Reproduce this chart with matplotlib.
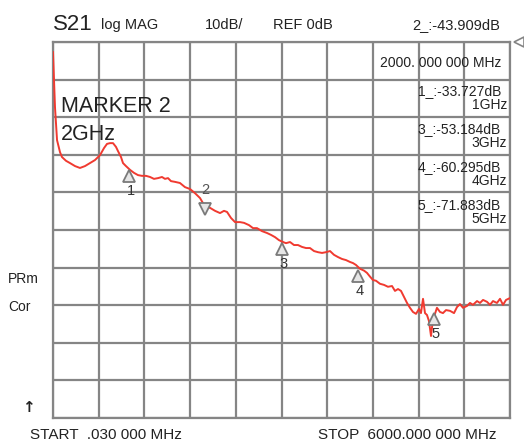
import matplotlib
matplotlib.use("Agg")
import matplotlib.pyplot as plt
import matplotlib.transforms as mtrans
import numpy as np

plt.rcParams['font.family'] = ['Liberation Sans', 'DejaVu Sans']

# ---- data ----
freq_mhz = [0.03, 13, 26, 53, 92, 118, 171, 223, 289, 354, 420, 486, 551, 617, 670, 709, 748,
            788, 827, 853, 893, 919, 958, 1011, 1063, 1116, 1168, 1221, 1274, 1326, 1379, 1431,
            1470, 1510, 1549, 1602, 1667, 1733, 1799, 1864, 1930, 2000, 2061, 2127, 2193, 2245,
            2285, 2337, 2390, 2455, 2508, 2573, 2626, 2678, 2744, 2810, 2862, 2915, 2967, 3020,
            3059, 3112, 3164, 3217, 3269, 3322, 3374, 3427, 3479, 3532, 3584, 3637, 3689, 3742,
            3794, 3847, 3899, 3939, 3978, 4030, 4083, 4122, 4162, 4201, 4241, 4293, 4346, 4398,
            4451, 4490, 4530, 4569, 4608, 4648, 4687, 4726, 4766, 4805, 4831, 4858, 4884, 4910,
            4936, 4963, 4989, 5015, 5041, 5081, 5120, 5160, 5212, 5265, 5304, 5343, 5383, 5435,
            5475, 5514, 5567, 5606, 5646, 5698, 5737, 5777, 5829, 5869, 5908, 5948, 6000]
s21_db = [-2.7, -10.1, -17.3, -26.1, -29.3, -30.6, -31.6, -32.2, -33.0, -33.5, -33.0, -32.2,
          -31.4, -30.1, -28.2, -27.1, -26.9, -26.9, -27.9, -29.0, -30.6, -32.2, -33.0, -34.0,
          -34.8, -35.4, -35.6, -35.6, -35.9, -36.4, -36.2, -35.9, -36.4, -36.2, -37.0, -37.2,
          -37.5, -38.6, -39.1, -40.2, -41.5, -43.9, -44.1, -44.9, -45.5, -44.9, -45.2, -46.8,
          -47.9, -47.9, -48.1, -48.7, -49.5, -49.5, -50.3, -50.8, -51.3, -51.9, -52.7, -53.2,
          -53.5, -53.2, -54.0, -54.0, -54.5, -54.8, -54.8, -55.6, -55.9, -56.1, -55.9, -55.6,
          -56.6, -57.2, -57.7, -58.0, -58.5, -58.8, -59.3, -60.3, -60.8, -61.4, -62.4, -63.3,
          -63.5, -64.3, -64.6, -65.1, -64.9, -66.2, -65.7, -66.2, -67.8, -69.4, -70.7, -71.8,
          -72.3, -71.0, -72.1, -68.3, -72.1, -72.6, -74.2, -78.2, -73.7, -72.3, -70.7, -71.8,
          -72.1, -71.3, -71.5, -72.1, -70.5, -69.7, -70.7, -70.2, -69.4, -69.9, -68.9, -69.4,
          -68.6, -69.1, -69.9, -68.9, -69.4, -68.3, -69.9, -68.6, -68.1]

marker_ids = ['1', '2', '3', '4', '5']
marker_freq = [1000, 2000, 3000, 4000, 5000]
marker_db = [-33.727, -43.909, -53.184, -60.295, -71.883]
marker_readout = ['1_:-33.727dB', '3_:-53.184dB', '4_:-60.295dB', '5_:-71.883dB']
marker_freq_lbl = ['1GHz', '3GHz', '4GHz', '5GHz']

W, H = 524, 444
fig = plt.figure(figsize=(W / 100, H / 100), dpi=100)
fig.patch.set_facecolor('white')

L, R, T, B = 53, 510, 42, 418
ax = fig.add_axes([L / W, 1 - B / H, (R - L) / W, (B - T) / H])
ax.set_xlim(0, 6000)
ax.set_ylim(-100, 0)
ax.set_xticks(np.linspace(0, 6000, 11))
ax.set_yticks(np.linspace(-100, 0, 11))
ax.tick_params(length=0, labelbottom=False, labelleft=False)
ax.grid(True, color='#858585', lw=1.6)
for s in ax.spines.values():
    s.set_color('#858585')
    s.set_linewidth(1.6)

ax.plot(freq_mhz, s21_db, color='#f03a30', lw=1.4, zorder=3)

def px(x, y):
    return x / W, 1 - y / H

dpi = fig.dpi
for mid, f, d in zip(marker_ids, marker_freq, marker_db):
    if mid == '2':
        off = mtrans.ScaledTranslation(0, -2 / dpi, fig.dpi_scale_trans)
        ax.plot([f], [d], marker='v', ms=9, mfc='#e6e6e6', mec='#7a7a7a', mew=1.3,
                transform=ax.transData + off, zorder=4)
        ax.annotate(mid, (f, d), xytext=(0, 10), textcoords='offset pixels',
                    ha='center', va='bottom', fontsize=10.5, color='#555555')
    else:
        off = mtrans.ScaledTranslation(0, -7 / dpi, fig.dpi_scale_trans)
        ax.plot([f], [d], marker='^', ms=9, mfc='#e6e6e6', mec='#7a7a7a', mew=1.3,
                transform=ax.transData + off, zorder=4)
        ax.annotate(mid, (f, d), xytext=(2, -15), textcoords='offset pixels',
                    ha='center', va='top', fontsize=10.5, color='#333333')

# reference level indicator
ax.plot([1.0], [1.0], marker='<', ms=7, mfc='white', mec='#858585', mew=1.2,
        transform=ax.transAxes + mtrans.ScaledTranslation(9 / dpi, 0, fig.dpi_scale_trans),
        clip_on=False, zorder=5)

tc = '#222222'
# header texts
fig.text(*px(53, 30), 'S21', fontsize=16, ha='left', va='baseline', color=tc)
fig.text(*px(101, 29), 'log MAG', fontsize=10.5, ha='left', va='baseline', color=tc)
fig.text(*px(205, 29), '10dB/', fontsize=10.5, ha='left', va='baseline', color=tc)
fig.text(*px(273, 29), 'REF 0dB', fontsize=10.5, ha='left', va='baseline', color=tc)
fig.text(*px(500, 29), '2_:-43.909dB', fontsize=10.5, ha='right', va='baseline', color=tc)

fig.text(*px(501, 67), '2000. 000 000 MHz', fontsize=10, ha='right', va='baseline', color=tc)
ys = [95, 133, 171, 209]
for (rd, fl, y) in zip(marker_readout, marker_freq_lbl, ys):
    fig.text(*px(501, y), rd, fontsize=10, ha='right', va='baseline', color=tc)
    fig.text(*px(507, y + 14), fl, fontsize=10, ha='right', va='baseline', color=tc)

fig.text(*px(61, 112), 'MARKER 2', fontsize=15.5, ha='left', va='baseline', color=tc)
fig.text(*px(61, 140), '2GHz', fontsize=15.5, ha='left', va='baseline', color=tc)

fig.text(*px(8, 283), 'PRm', fontsize=10, ha='left', va='baseline', color=tc)
fig.text(*px(8, 311), 'Cor', fontsize=10, ha='left', va='baseline', color=tc)
fig.text(*px(28, 412), '\u2191', fontsize=11, ha='center', va='baseline', color=tc,
         fontweight='bold', family=['DejaVu Sans'])

fig.text(*px(30, 439), 'START  .030 000 MHz', fontsize=11, ha='left', va='baseline', color=tc)
fig.text(*px(497, 439), 'STOP  6000.000 000 MHz', fontsize=11, ha='right', va='baseline', color=tc)

fig.savefig('out.png', dpi=100, facecolor='white')
